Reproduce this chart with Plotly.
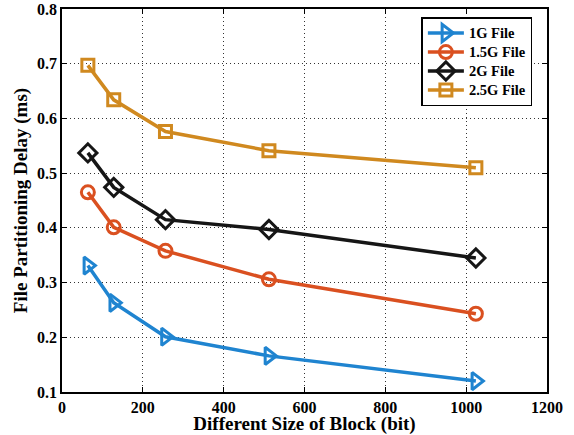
import plotly.graph_objects as go

block_sizes = [64, 128, 256, 512, 1024]
delay_1g = [0.331, 0.263, 0.201, 0.166, 0.120]
delay_15g = [0.465, 0.401, 0.358, 0.306, 0.243]
delay_2g = [0.537, 0.474, 0.415, 0.397, 0.345]
delay_25g = [0.697, 0.634, 0.576, 0.541, 0.510]

series_names = ["1G File", "1.5G File", "2G File", "2.5G File"]
series_values = [delay_1g, delay_15g, delay_2g, delay_25g]
colors = ["#1f84d0", "#da5020", "#161616", "#d0891f"]
symbols = ["triangle-right-open", "circle-open", "diamond-open", "square-open"]
sizes = [15, 13, 14, 12]

font_family = "Liberation Serif, Times New Roman, serif"

fig = go.Figure()
for name, vals, c, s, sz in zip(series_names, series_values, colors, symbols, sizes):
    fig.add_trace(go.Scatter(
        x=block_sizes, y=vals, name=f"<span style='font-size:14.5px'><b>{name}</b></span>",
        mode="lines+markers",
        line=dict(color=c, width=3.5),
        marker=dict(symbol=s, size=sz, color=c, line=dict(color=c, width=3)),
    ))

axis_common = dict(
    showgrid=True, gridcolor="#333", griddash="1px,3px", gridwidth=1,
    showline=True, linecolor="black", linewidth=1.5, mirror="ticks",
    ticks="inside", ticklen=5, tickcolor="black", zeroline=False,
    automargin=False,
    tickfont=dict(family=font_family, size=16, color="black", weight="bold"),
)

fig.update_layout(
    width=574, height=435,
    margin=dict(l=62, r=27, t=9, b=43),
    paper_bgcolor="white", plot_bgcolor="white",
    font=dict(family=font_family, color="black"),
    xaxis=dict(range=[0, 1200], dtick=200, tick0=0,
               title=dict(text="<b>Different Size of Block (bit)</b>", font=dict(family=font_family, size=19), standoff=0),
               **axis_common),
    yaxis=dict(range=[0.1, 0.8], dtick=0.1, tick0=0.1, tickformat=".1f",
               title=dict(text="<b>File Partitioning Delay (ms)</b>", font=dict(family=font_family, size=19), standoff=4),
               **axis_common),
    legend=dict(x=0.741, y=0.979, xanchor="left", yanchor="top",
                bgcolor="white", bordercolor="black", borderwidth=1.5,
                font=dict(family=font_family, size=12, color="black"),
                tracegroupgap=0, itemwidth=36),
    showlegend=True,
)

fig.write_html("out.html", config={"displayModeBar": False},
               post_script="document.body.style.margin='0';document.body.style.overflow='hidden';")
